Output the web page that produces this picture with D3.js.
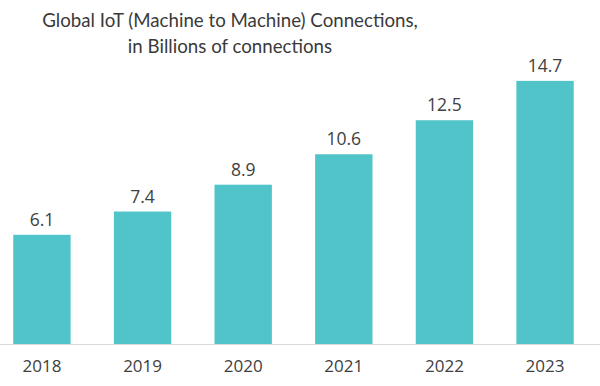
<!DOCTYPE html>
<html>
<head>
<meta charset="utf-8">
<script src="https://cdn.jsdelivr.net/npm/d3@7"></script>
<style>
  body { margin: 0; background: #fff; }
  svg { display: block; font-family: "Open Sans", sans-serif; }
</style>
</head>
<body>
<script>
var years = ['2018', '2019', '2020', '2021', '2022', '2023']
var connections = [6.1, 7.4, 8.9, 10.6, 12.5, 14.7]
var titleLines = ['Global IoT (Machine to Machine) Connections,', 'in Billions of connections']

var width = 600, height = 386
var baseY = 344

var svg = d3.select('body').append('svg')
  .attr('width', width)
  .attr('height', height)

var x = d3.scaleBand()
  .domain(years)
  .range([-30, 617])
  .paddingInner(0.43)
  .paddingOuter(0.43)

var y = d3.scaleLinear()
  .domain([0, 15])
  .range([baseY, baseY - 17.9 * 15])

var data = years.map(function(d, i) { return { year: d, value: connections[i] } })

// title
svg.append('g').selectAll('text').data(titleLines).enter().append('text')
  .attr('x', 230)
  .attr('y', function(d, i) { return 27 + i * 26 })
  .attr('text-anchor', 'middle')
  .style('font-family', 'Lato, sans-serif')
  .style('font-size', '18.7px')
  .style('fill', '#3a3a3a')
  .text(function(d) { return d })

// bars
svg.append('g').selectAll('rect').data(data).enter().append('rect')
  .attr('x', function(d) { return x(d.year) })
  .attr('y', function(d) { return y(d.value) })
  .attr('width', x.bandwidth())
  .attr('height', function(d) { return y(0) - y(d.value) })
  .style('fill', '#50c4c9')

// value labels
svg.append('g').selectAll('text').data(data).enter().append('text')
  .attr('x', function(d) { return x(d.year) + x.bandwidth() / 2 })
  .attr('y', function(d) { return y(d.value) - 9 })
  .attr('text-anchor', 'middle')
  .style('font-size', '17.5px')
  .style('fill', '#404040')
  .text(function(d) { return d.value.toFixed(1) })

// baseline
svg.append('line')
  .attr('x1', 0).attr('x2', width)
  .attr('y1', baseY + 0.5).attr('y2', baseY + 0.5)
  .style('stroke', '#d9d9d9')

// x axis
var xAxis = svg.append('g')
  .attr('transform', 'translate(0,' + baseY + ')')
  .call(d3.axisBottom(x).tickSize(0).tickPadding(16))
xAxis.select('.domain').remove()
xAxis.selectAll('text')
  .style('font-family', '"Open Sans", sans-serif')
  .style('font-size', '17px')
  .style('fill', '#404040')
</script>
</body>
</html>
